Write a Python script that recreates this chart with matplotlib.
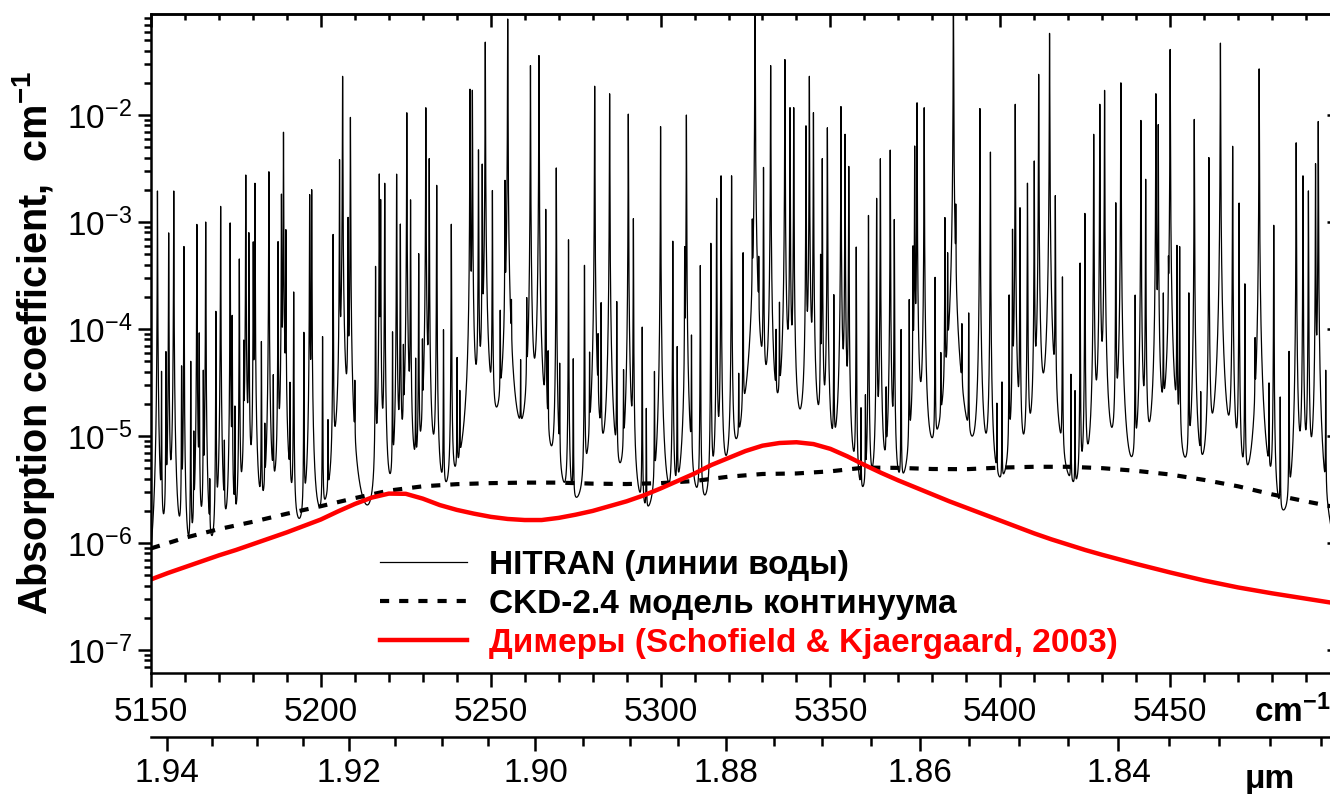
import numpy as np
import matplotlib
matplotlib.use('Agg')
import matplotlib.pyplot as plt
from matplotlib.ticker import (MultipleLocator, FixedLocator, LogLocator, NullFormatter,
                               FormatStrFormatter, FuncFormatter)

plt.rcParams['font.family'] = ['Liberation Sans', 'DejaVu Sans']
plt.rcParams['mathtext.fontset'] = 'custom'
plt.rcParams['mathtext.rm'] = 'Liberation Sans'
plt.rcParams['mathtext.bf'] = 'Liberation Sans:bold'
plt.rcParams['mathtext.default'] = 'regular'

# water lines: centre (cm-1) and peak absorption (cm-1)
line_pos = [
    5151.9, 5153.1, 5154.4, 5155.2, 5156.7, 5159.0, 5159.7, 5161.7, 5162.6, 5163.5,
    5164.2, 5165.4, 5166.1, 5167.3, 5169.1, 5170.5, 5171.6, 5173.3, 5173.9, 5174.7,
    5176.0, 5177.3, 5177.9, 5178.8, 5180.1, 5180.6, 5182.5, 5183.5, 5184.7, 5186.0,
    5187.4, 5188.4, 5189.0, 5189.7, 5190.9, 5192.0, 5195.0, 5196.7, 5197.3, 5200.5,
    5202.1, 5203.6, 5205.5, 5206.4, 5208.0, 5208.7, 5210.0, 5216.1, 5217.2, 5217.6,
    5218.8, 5221.1, 5222.3, 5223.4, 5224.3, 5225.3, 5226.4, 5227.9, 5228.8, 5229.9,
    5230.9, 5231.9, 5234.1, 5236.1, 5238.4, 5240.1, 5240.9, 5243.9, 5244.6, 5246.4,
    5247.5, 5248.4, 5250.5, 5252.8, 5254.2, 5255.0, 5256.1, 5258.8, 5260.6, 5261.7,
    5264.2, 5266.2, 5266.9, 5269.3, 5270.3, 5272.9, 5274.3, 5277.6, 5279.1, 5280.6,
    5281.6, 5282.5, 5285.0, 5287.1, 5289.1, 5290.5, 5292.0, 5294.6, 5295.8, 5298.2,
    5300.0, 5303.6, 5304.9, 5307.1, 5307.6, 5309.1, 5311.7, 5314.8, 5316.5, 5317.8,
    5320.9, 5323.0, 5324.3, 5327.0, 5327.8, 5328.9, 5330.3, 5332.4, 5334.0, 5335.0,
    5336.6, 5338.1, 5339.2, 5342.8, 5343.8, 5345.0, 5347.1, 5347.6, 5349.1, 5351.0,
    5353.1, 5354.3, 5355.4, 5357.6, 5359.0, 5360.3, 5361.2, 5363.6, 5364.7, 5366.4,
    5367.6, 5368.8, 5370.8, 5373.2, 5374.3, 5374.8, 5375.5, 5377.6, 5380.8, 5382.5,
    5383.7, 5384.5, 5386.2, 5386.9, 5388.7, 5390.7, 5394.0, 5397.1, 5399.0, 5400.5,
    5402.6, 5403.6, 5404.4, 5405.8, 5408.0, 5410.0, 5411.3, 5414.5, 5416.2, 5418.3,
    5420.8, 5422.0, 5423.5, 5424.9, 5427.5, 5429.3, 5430.7, 5434.0, 5435.5, 5439.7,
    5441.4, 5442.8, 5445.8, 5446.5, 5448.0, 5449.5, 5450.0, 5452.0, 5452.8, 5455.5,
    5457.1, 5459.0, 5461.4, 5464.8, 5468.4, 5470.3, 5472.0, 5475.0, 5476.2, 5479.1,
    5480.5, 5482.4, 5485.0, 5487.1, 5489.1, 5490.7, 5492.8, 5493.6, 5495.8,
]
line_peak = [
    1.95e-3, 3.8e-5, 5.9e-5, 7.9e-4, 1.95e-3, 4.3e-5, 5.9e-4, 4.9e-5, 9.1e-6, 9.5e-4,
    8.9e-5, 3.8e-5, 1.0e-3, 2.5e-6, 1.45e-4, 1.4e-3, 6.8e-6, 9.8e-4, 1.3e-4, 1.7e-5,
    4.5e-4, 6.8e-5, 2.75e-3, 7.9e-4, 6.4e-4, 2.3e-3, 7.4e-5, 9.3e-6, 2.95e-3, 3.3e-5,
    6.5e-4, 1.8e-3, 6.9e-3, 8.3e-4, 2.75e-5, 2.2e-4, 9.1e-5, 1.8e-3, 2.0e-3, 8.3e-5,
    1.1e-5, 7.6e-4, 3.8e-3, 2.3e-2, 1.07e-3, 9.5e-3, 2.3e-5, 3.8e-4, 2.8e-3, 1.6e-3,
    2.3e-3, 8.9e-5, 2.8e-3, 9.5e-4, 5.5e-5, 1.05e-2, 1.6e-3, 4.7e-5, 5.0e-4, 6.3e-5,
    1.17e-2, 3.9e-3, 2.2e-3, 9.5e-5, 9.5e-4, 4.9e-5, 2.0e-5, 1.74e-2, 1.7e-2, 4.7e-3,
    3.4e-3, 4.8e-2, 1.95e-3, 1.23e-4, 2.3e-3, 7.9e-2, 1.05e-4, 3.8e-5, 1.6e-4, 2.9e-2,
    3.6e-2, 1.3e-3, 5.0e-5, 3.2e-3, 4.1e-5, 6.8e-4, 5.0e-5, 3.9e-4, 4.9e-5, 1.86e-2,
    6.5e-5, 1.66e-4, 1.58e-2, 1.74e-4, 3.3e-5, 1.02e-2, 1.07e-3, 1.02e-4, 1.6e-5, 3.6e-5,
    7.8e-3, 6.6e-4, 6.5e-5, 5.4e-4, 1.0e-2, 8.1e-5, 3.9e-4, 6.3e-4, 1.66e-3, 2.7e-3,
    2.7e-3, 2.8e-5, 5.0e-4, 7.8e-4, 0.15, 3.2e-4, 3.2e-3, 2.9e-2, 7.2e-5, 1.5e-4,
    3.3e-2, 1.17e-2, 1.17e-2, 7.9e-3, 2.3e-2, 1.05e-2, 4.7e-4, 3.9e-3, 7.6e-3, 2.0e-4,
    1.2e-2, 6.6e-3, 3.3e-3, 5.8e-4, 1.5e-5, 2.0e-5, 1.15e-3, 1.66e-3, 3.9e-3, 2.1e-5,
    4.7e-3, 1.05e-3, 9.5e-5, 1.8e-4, 5.6e-4, 5.1e-3, 1.3e-2, 1.17e-2, 2.95e-4, 4.4e-5,
    1.07e-3, 4.5e-4, 0.15, 1.1e-3, 8.1e-5, 1.3e-4, 1.15e-2, 4.5e-3, 1.55e-5, 2.8e-5,
    2.0e-4, 8.3e-4, 1.26e-2, 1.35e-3, 2.3e-3, 3.7e-3, 2.4e-2, 5.8e-2, 1.74e-3, 3.0e-4,
    3.4e-5, 2.3e-5, 4.1e-4, 1.2e-3, 6.6e-3, 1.26e-2, 1.7e-2, 1.5e-3, 2.0e-2, 2.0e-4,
    8.9e-3, 2.5e-3, 1.58e-2, 8.1e-3, 1.95e-4, 2.8e-4, 4.1e-2, 5.9e-4, 5.8e-4, 2.1e-4,
    9.1e-3, 1.9e-5, 4.0e-3, 4.7e-2, 5.1e-3, 1.5e-3, 2.6e-4, 5.9e-5, 2.7e-2, 2.6e-5,
    9.3e-4, 2.1e-5, 5.9e-5, 5.5e-3, 2.7e-3, 1.95e-3, 3.5e-3, 8.7e-3, 3.8e-5,
]
line_hwhm = 0.035  # cm-1, Lorentz half width

# CKD-2.4 continuum
ckd_nu = [5150, 5160, 5170, 5180, 5190, 5200, 5210, 5220, 5230, 5240, 5250, 5260,
          5270, 5280, 5290, 5300, 5310, 5320, 5330, 5340, 5350, 5360, 5370, 5380,
          5390, 5400, 5410, 5420, 5430, 5440, 5450, 5460, 5470, 5480, 5490, 5500]
ckd_k = [8.91e-7, 1.12e-6, 1.35e-6, 1.58e-6, 1.88e-6, 2.21e-6, 2.63e-6, 3.09e-6,
         3.39e-6, 3.55e-6, 3.63e-6, 3.67e-6, 3.67e-6, 3.59e-6, 3.56e-6, 3.63e-6,
         3.80e-6, 4.17e-6, 4.42e-6, 4.47e-6, 4.68e-6, 5.07e-6, 5.04e-6, 4.92e-6,
         4.90e-6, 5.07e-6, 5.16e-6, 5.16e-6, 5.01e-6, 4.73e-6, 4.37e-6, 3.89e-6,
         3.39e-6, 2.85e-6, 2.45e-6, 2.12e-6]

# water dimer absorption (Schofield & Kjaergaard, 2003), log10 of k
dim_nu = list(range(5150, 5431, 5)) + [5440, 5450, 5460, 5470, 5480, 5490, 5500]
dim_logk = [
    -6.34, -6.28, -6.225, -6.17, -6.115, -6.065, -6.01, -5.955, -5.90, -5.84,
    -5.78, -5.705, -5.635, -5.575, -5.538, -5.54, -5.585, -5.645, -5.69, -5.725,
    -5.755, -5.775, -5.785, -5.785, -5.765, -5.735, -5.70, -5.655, -5.61, -5.555,
    -5.49, -5.42, -5.35, -5.27, -5.205, -5.14, -5.09, -5.065, -5.058, -5.075,
    -5.12, -5.19, -5.27, -5.345, -5.415, -5.48, -5.545, -5.61, -5.67, -5.73,
    -5.79, -5.85, -5.91, -5.965, -6.015, -6.065, -6.11,
    -6.195, -6.275, -6.35, -6.415, -6.47, -6.52, -6.57,
]

legend_labels = ['HITRAN (линии воды)', 'CKD-2.4 модель континуума',
                 'Димеры (Schofield & Kjaergaard, 2003)']
um_ticks = [1.94, 1.92, 1.90, 1.88, 1.86, 1.84]

# line-by-line spectrum from the line list
nu = np.arange(5148.0, 5502.0, 0.01)
spec = np.zeros_like(nu)
for c, s in zip(line_pos, line_peak):
    spec += s * line_hwhm**2 / ((nu - c)**2 + line_hwhm**2)

fig = plt.figure(figsize=(13.3, 7.94), dpi=100)
ax = fig.add_axes([151 / 1330, 1 - 673 / 794, 1189 / 1330, 659 / 794])

l1, = ax.plot(nu, spec, color='black', lw=0.9)
l2, = ax.plot(ckd_nu, ckd_k, color='black', lw=3, ls=(0, (2.2, 2.4)))
l3, = ax.plot(dim_nu, 10 ** np.array(dim_logk), color='red', lw=3.2)

ax.set_yscale('log')
ax.set_xlim(5150, 5500)
ax.set_ylim(6.1e-8, 8.8e-2)

for sp in ax.spines.values():
    sp.set_linewidth(1.8)

ax.xaxis.set_major_locator(MultipleLocator(50))
ax.xaxis.set_minor_locator(MultipleLocator(10))
ax.xaxis.set_major_formatter(FuncFormatter(lambda v, p: '' if v > 5480 else f'{v:.0f}'))
ax.yaxis.set_major_locator(LogLocator(base=10, numticks=20))
ax.yaxis.set_minor_locator(LogLocator(base=10, subs=np.arange(2, 10), numticks=20))
ax.yaxis.set_minor_formatter(NullFormatter())
ax.tick_params(axis='x', which='major', direction='out', length=10, width=1.8,
               labelsize=24, pad=7)
ax.tick_params(axis='x', which='minor', direction='out', length=6.5, width=1.8)
ax.tick_params(axis='y', which='major', direction='out', length=9.5, width=1.8,
               labelsize=24, pad=4)
ax.tick_params(axis='y', which='minor', direction='out', length=5, width=1.8)

# inward ticks on top and right
top = ax.secondary_xaxis('top')
top.xaxis.set_major_locator(MultipleLocator(50))
top.xaxis.set_minor_locator(MultipleLocator(10))
top.tick_params(which='major', direction='in', length=9, width=1.8, labeltop=False)
top.tick_params(which='minor', direction='in', length=4.5, width=1.8)
top.spines['top'].set_linewidth(1.8)

right = ax.secondary_yaxis('right')
right.tick_params(which='major', direction='in', length=9.5, width=1.8, labelright=False)
right.tick_params(which='minor', direction='in', length=4.5, width=1.8)
right.spines['right'].set_linewidth(1.8)

# wavelength scale below
um = ax.secondary_xaxis(-0.0971, functions=(lambda x: 1e4 / x, lambda x: 1e4 / x))
um.xaxis.set_major_locator(FixedLocator(um_ticks))
um.xaxis.set_minor_locator(FixedLocator(np.arange(1.815, 1.945, 0.005)))
um.xaxis.set_major_formatter(FormatStrFormatter('%.2f'))
um.tick_params(which='major', direction='out', length=10, width=1.8, labelsize=24, pad=5)
um.tick_params(which='minor', direction='out', length=6.5, width=1.8)
um.spines['bottom'].set_linewidth(1.8)

ax.set_ylabel('Absorption coefficient,  cm$^{\\mathbf{-1}}$', fontsize=28.5,
              fontweight='bold', labelpad=7)
fig.text(1254 / 1330, 1 - 712 / 794, 'cm$^{\\mathbf{-1}}$', fontsize=24,
         fontweight='bold', va='center', ha='left')
fig.text(1245 / 1330, 1 - 788 / 794, 'μm', fontsize=24, fontweight='bold',
         va='baseline', ha='left')

leg = ax.legend([l1, l2, l3], legend_labels, loc='upper left',
                bbox_to_anchor=(0.193, 0.187), frameon=False,
                prop={'weight': 'bold', 'size': 24}, handlelength=2.6,
                handletextpad=0.65, labelspacing=0.24, borderaxespad=0, borderpad=0)
for t, c in zip(leg.get_texts(), ['black', 'black', 'red']):
    t.set_color(c)

fig.savefig('out.png', dpi=100)
